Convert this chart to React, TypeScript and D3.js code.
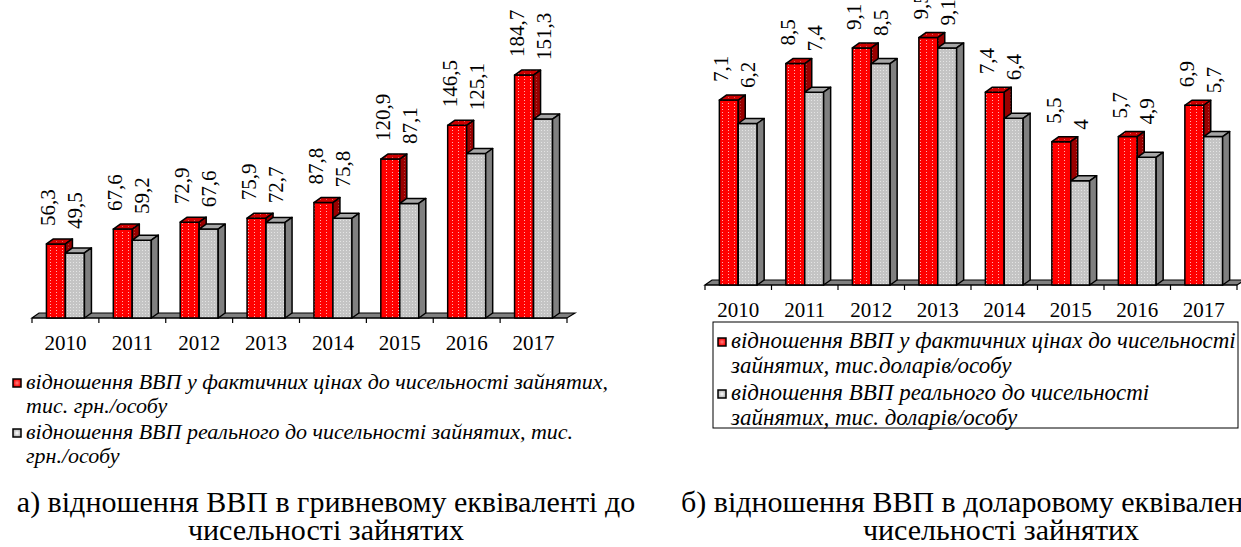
import React from "react";
import * as d3 from "d3";

// значення з діаграм
const years = ["2010", "2011", "2012", "2013", "2014", "2015", "2016", "2017"];
const uahNominal = [56.3, 67.6, 72.9, 75.9, 87.8, 120.9, 146.5, 184.7];
const uahReal = [49.5, 59.2, 67.6, 72.7, 75.8, 87.1, 125.1, 151.3];
const usdNominal = [7.1, 8.5, 9.1, 9.5, 7.4, 5.5, 5.7, 6.9];
const usdReal = [6.2, 7.4, 8.5, 9.1, 6.4, 4, 4.9, 5.7];

const legendUah = [
  ["відношення ВВП у фактичних цінах до чисельності зайнятих,", "тис. грн./особу"],
  ["відношення ВВП реального до чисельності зайнятих, тис.", "грн./особу"],
];
const legendUsd = [
  ["відношення ВВП у фактичних цінах до чисельності", "зайнятих, тис.доларів/особу"],
  ["відношення ВВП реального до чисельності", "зайнятих, тис. доларів/особу"],
];
const captionA = ["а) відношення ВВП в гривневому еквіваленті до", "чисельності зайнятих"];
const captionB = ["б) відношення ВВП в доларовому еквіваленті до", "чисельності зайнятих"];

const FONT = "'Liberation Serif', 'Times New Roman', serif";
const DX = 7;
const DY = -5;

const fmt = (v: number) => String(v).replace(".", ",");

interface ChartProps {
  nominal: number[];
  real: number[];
  x0: number;
  x1: number;
  floor: number;
  yMax: number;
  yTop: number;
  grayShift: number;
}

const Chart3D: React.FC<ChartProps> = ({ nominal, real, x0, x1, floor, yMax, yTop, grayShift }) => {
  const x = d3.scaleBand<string>().domain(years).range([x0, x1]).padding(0);
  const inner = d3
    .scaleBand<string>()
    .domain(["n", "r"])
    .range([0, x.bandwidth()])
    .paddingInner(0)
    .paddingOuter(0.76);
  const y = d3.scaleLinear().domain([0, yMax]).range([floor, yTop]);
  const w = inner.bandwidth();

  const box = (bx: number, top: number, key: string, front: string, topFill: string, side: string) => (
    <g key={key} stroke="#000" strokeWidth={1.5} strokeLinejoin="round">
      <rect x={bx} y={top} width={w} height={floor - top} fill={front} />
      <path
        d={`M${bx},${top}L${bx + w},${top}L${bx + w + DX},${top + DY}L${bx + DX},${top + DY}Z`}
        fill={topFill}
      />
      <path
        d={`M${bx + w},${top}L${bx + w + DX},${top + DY}L${bx + w + DX},${floor + DY}L${bx + w},${floor}Z`}
        fill={side}
      />
    </g>
  );

  return (
    <g>
      {/* підлога */}
      <path
        d={`M${x0},${floor}L${x1},${floor}L${x1 + DX + 1},${floor + DY}L${x0 + DX},${floor + DY}Z`}
        fill="#808080"
        stroke="#000"
        strokeWidth={1.2}
      />
      <line x1={x0} x2={x1} y1={floor} y2={floor} stroke="#000" strokeWidth={1.2} />
      {years.map((yr) => (
        <line key={"t" + yr} x1={x(yr)!} x2={x(yr)!} y1={floor} y2={floor + 5} stroke="#000" strokeWidth={1.2} />
      ))}
      <line x1={x1} x2={x1} y1={floor} y2={floor + 5} stroke="#000" strokeWidth={1.2} />

      {years.map((yr, i) => {
        const bx = x(yr)!;
        const rx = bx + inner("n")!;
        const gx = bx + inner("r")!;
        return (
          <g key={yr}>
            {box(rx, y(nominal[i]), "n", "url(#redDots)", "url(#redTop)", "url(#redSide)")}
            {box(gx, y(real[i]), "r", "url(#grayDots)", "#a6a6a6", "#808080")}
          </g>
        );
      })}

      {years.map((yr, i) => {
        const bx = x(yr)!;
        const mid = bx + inner("r")!;
        const base = y(Math.max(nominal[i], real[i])) - 18;
        return (
          <g key={"l" + yr} fontFamily={FONT} fontSize={21} fill="#000">
            <text transform={`translate(${mid - 17},${base}) rotate(-90)`} dy="0.33em">
              {fmt(nominal[i])}
            </text>
            <text transform={`translate(${mid + 10},${base + grayShift}) rotate(-90)`} dy="0.33em">
              {fmt(real[i])}
            </text>
          </g>
        );
      })}

      {years.map((yr) => (
        <text
          key={"x" + yr}
          x={x(yr)! + x.bandwidth() / 2}
          y={floor + 32}
          textAnchor="middle"
          fontFamily={FONT}
          fontSize={21}
        >
          {yr}
        </text>
      ))}
    </g>
  );
};

const Legend: React.FC<{ lines: string[][]; x: number; y: number; step: number; size: number }> = ({
  lines,
  x,
  y,
  step,
  size,
}) => (
  <g fontFamily={FONT} fontSize={size} fontStyle="italic">
    {lines.map((ln, i) => {
      const by = y + i * step * 2 + (i ? 2 : 0);
      return (
        <g key={i}>
          <rect
            x={x}
            y={by - 10}
            width={8}
            height={8}
            fill={i === 0 ? "url(#legRed)" : "url(#legGray)"}
            stroke="#000"
            strokeWidth={1.5}
          />
          <text x={x + 13} y={by}>
            {ln[0]}
          </text>
          <text x={x + 13} y={by + step}>
            {ln[1]}
          </text>
        </g>
      );
    })}
  </g>
);

export default function App() {
  return (
    <div style={{ position: "absolute", left: 0, top: 0 }}>
      <svg width={1241} height={547} style={{ display: "block", background: "#fff" }}>
        <defs>
          <pattern id="redDots" width={6} height={3} patternUnits="userSpaceOnUse">
            <rect width={6} height={3} fill="#ff0000" />
            <rect x={2} y={1} width={1} height={1} fill="#ffb0b0" />
          </pattern>
          <pattern id="redTop" width={6} height={3} patternUnits="userSpaceOnUse">
            <rect width={6} height={3} fill="#cc0000" />
            <rect x={2} y={1} width={1} height={1} fill="#e06060" />
          </pattern>
          <pattern id="redSide" width={6} height={3} patternUnits="userSpaceOnUse">
            <rect width={6} height={3} fill="#990000" />
            <rect x={2} y={1} width={1} height={1} fill="#b04040" />
          </pattern>
          <pattern id="grayDots" width={3} height={3} patternUnits="userSpaceOnUse">
            <rect width={3} height={3} fill="#c4c4c4" />
            <rect x={1} y={1} width={1} height={1} fill="#e4e4e4" />
          </pattern>
          <radialGradient id="legRed">
            <stop offset="0%" stopColor="#ff8080" />
            <stop offset="100%" stopColor="#ff0000" />
          </radialGradient>
          <radialGradient id="legGray">
            <stop offset="0%" stopColor="#ffffff" />
            <stop offset="100%" stopColor="#b0b0b0" />
          </radialGradient>
        </defs>

        <Chart3D nominal={uahNominal} real={uahReal} x0={32} x1={567} floor={318} yMax={200} yTop={55} grayShift={3} />
        <Chart3D nominal={usdNominal} real={usdReal} x0={705} x1={1237} floor={285} yMax={10} yTop={24.5} grayShift={6} />

        <Legend lines={legendUah} x={13} y={389} step={24} size={22} />
        <rect x={713} y={322} width={525} height={106} fill="none" stroke="#000" strokeWidth={1} />
        <Legend lines={legendUsd} x={718} y={348} step={25} size={23} />

        <g fontFamily={FONT} fontSize={30}>
          <text x={326} y={512} textAnchor="middle">{captionA[0]}</text>
          <text x={326} y={540} textAnchor="middle">{captionA[1]}</text>
          <text x={681} y={512}>{captionB[0]}</text>
          <text x={1001} y={540} textAnchor="middle">{captionB[1]}</text>
        </g>
      </svg>
    </div>
  );
}
